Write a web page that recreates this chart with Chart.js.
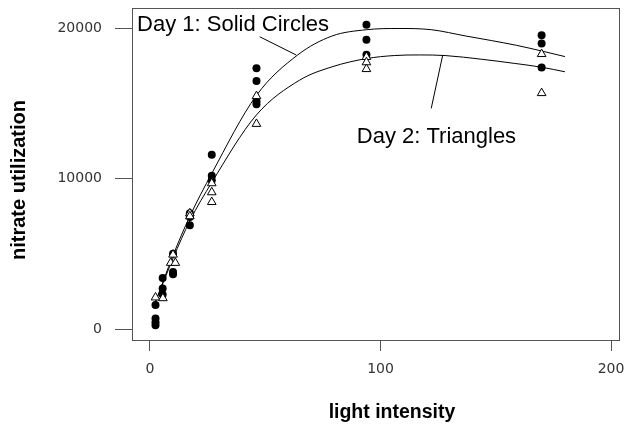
<!DOCTYPE html>
<html><head><meta charset="utf-8">
<script src="https://cdn.jsdelivr.net/npm/chart.js@4/dist/chart.umd.min.js"></script>
<style>html,body{margin:0;padding:0;background:#fff;}#wrap{width:626px;height:426px;}</style>
</head><body><div id="wrap"><canvas id="c" width="626" height="426"></canvas></div>
<script>
// ---- data ----
const xTicks = [0, 100, 200];
const yTicks = [0, 10000, 20000];

// Day 1: solid circles
const day1X = [2.4, 2.4, 2.4, 2.4, 5.5, 5.5, 5.5, 10, 10, 10, 17.3, 17.3, 17.3, 26.8, 26.8, 26.8, 46.2, 46.2, 46.2, 46.2, 93.9, 93.9, 93.9, 169.9, 169.9, 169.9];
const day1Y = [1600, 700, 450, 250, 3400, 2700, 2300, 5000, 3800, 3650, 7700, 7450, 6900, 11600, 10200, 9900, 17350, 16500, 15150, 14950, 20250, 19250, 18250, 19550, 19000, 17400];

// Day 2: open triangles
const day2X = [2.4, 5.6, 9, 11, 10, 17.3, 17.3, 26.8, 26.8, 26.8, 46.2, 46.2, 93.9, 93.9, 93.9, 169.9, 169.9];
const day2Y = [2100, 2050, 4400, 4400, 4950, 7700, 7500, 9700, 9100, 8450, 15500, 13650, 18100, 17750, 17300, 18300, 15700];

// fitted curves
const curve1X = [2.4, 10, 17.3, 26.8, 46.2, 64, 79, 94, 108, 122, 137, 148, 159, 170, 180];
const curve1Y = [1800, 4900, 7500, 10350, 15550, 18230, 19500, 19920, 20000, 19920, 19500, 19200, 18880, 18500, 18130];
const curve2X = [2.4, 10, 17.3, 26.8, 46.2, 65, 79, 94, 106, 117, 128, 144, 158, 170, 180];
const curve2Y = [1800, 4700, 7200, 9750, 14250, 16570, 17450, 18000, 18200, 18240, 18200, 17950, 17680, 17420, 17120];

// annotation texts and their anchors (data units)
const noteText = ["Day 1: Solid Circles", "Day 2: Triangles"];
const noteX = [-5.6, 89.7];
const noteY = [19830, 12400];
// leader lines: [x1, y1, x2, y2] in data units
const leader1 = [47.6, 19450, 63.5, 18230];
const leader2 = [127, 18230, 122, 14680];

const xTitle = "light intensity";
const yTitle = "nitrate utilization";

// ---- chart ----
const pts = (xs, ys) => xs.map((x, i) => ({x: x, y: ys[i]}));
const tickFont = {family: "'DejaVu Sans', sans-serif", size: 14};
const labelFont = "'Liberation Sans', Arial, sans-serif";

const decor = {
  id: 'decor',
  afterDraw(chart) {
    const {ctx, chartArea: a, scales: {x, y}} = chart;
    ctx.save();
    ctx.strokeStyle = '#555';
    ctx.lineWidth = 1;
    ctx.strokeRect(Math.round(a.left) + 0.5, Math.round(a.top) + 0.5, Math.round(a.right - a.left) - 1, Math.round(a.bottom - a.top));
    // leader lines
    ctx.strokeStyle = '#000';
    [leader1, leader2].forEach(l => {
      ctx.beginPath();
      ctx.moveTo(x.getPixelForValue(l[0]), y.getPixelForValue(l[1]));
      ctx.lineTo(x.getPixelForValue(l[2]), y.getPixelForValue(l[3]));
      ctx.stroke();
    });
    ctx.fillStyle = '#000';
    ctx.font = "22px " + labelFont;
    ctx.textAlign = 'left';
    ctx.textBaseline = 'alphabetic';
    noteText.forEach((t, i) => ctx.fillText(t, x.getPixelForValue(noteX[i]), y.getPixelForValue(noteY[i])));
    // axis titles
    ctx.font = "bold 19.5px " + labelFont;
    ctx.textAlign = 'center';
    ctx.fillText(xTitle, 392, 418);
    ctx.font = "bold 20px " + labelFont;
    ctx.translate(25, 180);
    ctx.rotate(-Math.PI / 2);
    ctx.fillText(yTitle, 0, 0);
    ctx.restore();
  }
};

const noPad = s => { s.paddingTop = 0; s.paddingBottom = 0; s.paddingLeft = 0; s.paddingRight = 0; };

new Chart(document.getElementById('c'), {
  type: 'scatter',
  data: {
    datasets: [
      {data: pts(day2X, day2Y), pointStyle: 'triangle', pointRadius: 5, backgroundColor: '#fff', borderColor: '#000', borderWidth: 1, order: 1},
      {data: pts(day1X, day1Y), pointStyle: 'circle', pointRadius: 4, backgroundColor: '#000', borderColor: '#000', borderWidth: 0, order: 2},
      {data: pts(curve1X, curve1Y), showLine: true, pointRadius: 0, borderColor: '#000', borderWidth: 1, cubicInterpolationMode: 'monotone', order: 3},
      {data: pts(curve2X, curve2Y), showLine: true, pointRadius: 0, borderColor: '#000', borderWidth: 1, cubicInterpolationMode: 'monotone', order: 3}
    ]
  },
  options: {
    responsive: false,
    animation: false,
    events: [],
    layout: {padding: {top: 8, right: 5, left: 0, bottom: 0}},
    plugins: {legend: {display: false}, tooltip: {enabled: false}},
    scales: {
      x: {
        type: 'linear', min: -7.8, max: 203.9,
        afterBuildTicks: s => { s.ticks = xTicks.map(v => ({value: v})); },
        afterFit: s => { s.height = 86; noPad(s); },
        grid: {drawOnChartArea: false, drawTicks: true, tickLength: 11, color: '#555'},
        border: {display: false},
        ticks: {padding: 10, font: tickFont, color: '#333', maxRotation: 0, autoSkip: false, callback: v => String(v)}
      },
      y: {
        type: 'linear', min: -732, max: 21364,
        afterBuildTicks: s => { s.ticks = yTicks.map(v => ({value: v})); },
        afterFit: s => { s.width = 132; noPad(s); },
        grid: {drawOnChartArea: false, drawTicks: true, tickLength: 17, color: '#555'},
        border: {display: false},
        ticks: {padding: 13, font: tickFont, color: '#333', autoSkip: false, callback: v => String(v)}
      }
    }
  },
  plugins: [decor]
});
</script>
</body></html>
